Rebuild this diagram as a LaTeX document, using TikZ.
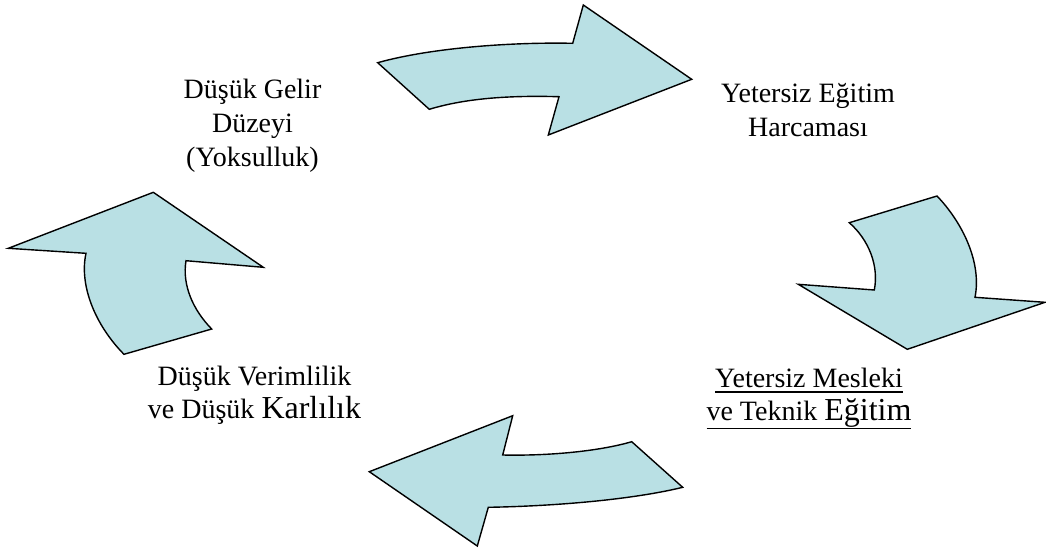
\documentclass[tikz,border=0pt]{standalone}
\usepackage{fontspec}
\setmainfont{Liberation Serif}
\definecolor{arrowfill}{RGB}{185,224,228}
\newcommand{\ulbox}[2]{\setbox0\hbox{#2}\rlap{\rule[-#1]{\wd0}{1.3pt}}\box0}
\tikzset{
  bigarrow/.style={draw=black, line width=1.4pt, fill=arrowfill, line join=miter},
  label/.style={align=center, inner sep=0pt, font=\fontsize{28}{34}\selectfont},
}
\begin{document}
\begin{tikzpicture}[x=1pt, y=-1pt]
\useasboundingbox (0,0) rectangle (1046,555);

% top arrow, pointing right
\draw[bigarrow] (377.7,62.7) .. controls (430,48) and (510,42) .. (572.7,43.3)
  -- (583.3,5) -- (691.7,79.3) -- (548.3,135) -- (559,96.7)
  .. controls (500,95) and (460,100) .. (429.3,109.3) -- cycle;

% right arrow, pointing down
\draw[bigarrow] (849.3,222.7) -- (937,196)
  .. controls (962,222) and (982,262) .. (975,297.3)
  -- (1045,302.3) -- (907.3,349.3) -- (798.3,284.3) -- (874.3,290)
  .. controls (879,266) and (869,240) .. cycle;

% bottom arrow, pointing left
\draw[bigarrow] (631.7,441.7) -- (682.7,487.3)
  .. controls (635,499) and (560,506) .. (488.3,507.3)
  -- (477.3,546) -- (369.3,471.7) -- (512.7,415.7) -- (502.7,455)
  .. controls (550,456) and (600,451) .. cycle;

% left arrow, pointing up
\draw[bigarrow] (124,354.3) -- (211.7,329)
  .. controls (193,310) and (182,285) .. (186,260.7)
  -- (263.3,267.3) -- (153.3,192.3) -- (8.3,248.3) -- (86,253.3)
  .. controls (79,285) and (95,325) .. cycle;

% labels (anchored on the baseline of their last line)
\node[label, anchor=base] (gelir) at (252.5,166.7)
  {Düşük Gelir\\Düzeyi\\(Yoksulluk)};
\node[label, anchor=base] (harcama) at (808,136.7)
  {Yetersiz Eğitim\\Harcaması};
\node[label, anchor=base] (mesleki) at (809,420)
  {\ulbox{5.5pt}{Yetersiz Mesleki}\\[-1pt]\ulbox{9pt}{ve Teknik {\fontsize{32}{34}\selectfont Eğitim}}};
\node[label, anchor=base] (verim) at (254.5,418.3)
  {Düşük Verimlilik\\[-1pt]ve Düşük {\fontsize{32}{34}\selectfont Karlılık}};
\end{tikzpicture}
\end{document}
